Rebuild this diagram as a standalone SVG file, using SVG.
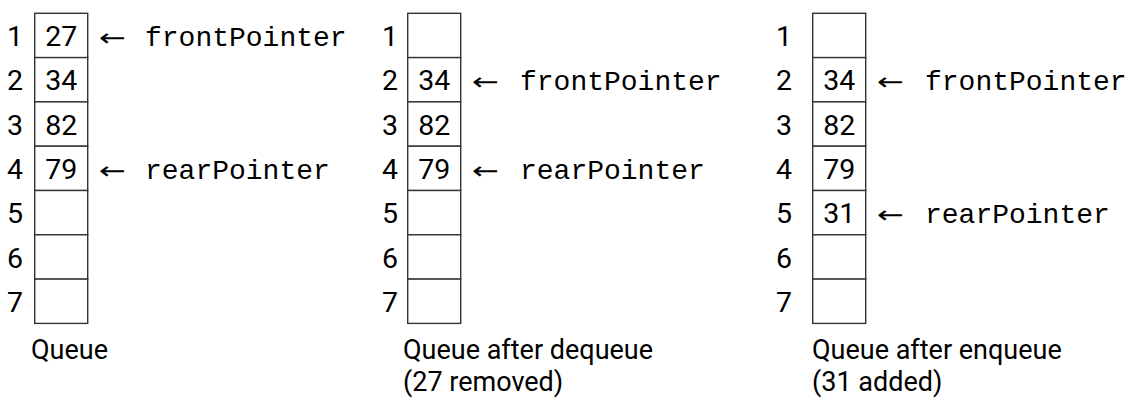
<svg xmlns="http://www.w3.org/2000/svg" width="1144" height="418" viewBox="0 0 1144 418">
<style>
.cell{fill:#fff;stroke:#333;stroke-width:1.4}
.idx{font-family:Roboto,"Open Sans",sans-serif;font-size:28.5px;font-weight:400;fill:#000;text-anchor:middle}
.val{font-family:Roboto,"Open Sans",sans-serif;font-size:28.5px;font-weight:400;fill:#000;text-anchor:middle}
.ptr{font-family:"Courier New","Liberation Mono",monospace;font-size:28px;fill:#000}
.arr{font-family:"DejaVu Sans",sans-serif;font-size:24px;fill:#000}
.cap{font-family:Roboto,"Open Sans",sans-serif;font-size:27px;font-weight:400;fill:#000}
</style>
<rect width="1144" height="418" fill="#fff"/>

<g id="queue-initial">
  <g id="q1-r1"><rect class="cell" x="34.7" y="13.3" width="53" height="44.3"/><text class="idx" x="15" y="46">1</text><text class="val" x="61.2" y="46">27</text></g>
  <g id="q1-r2"><rect class="cell" x="34.7" y="57.6" width="53" height="44.3"/><text class="idx" x="15" y="90.3">2</text><text class="val" x="61.2" y="90.3">34</text></g>
  <g id="q1-r3"><rect class="cell" x="34.7" y="101.9" width="53" height="44.3"/><text class="idx" x="15" y="134.6">3</text><text class="val" x="61.2" y="134.6">82</text></g>
  <g id="q1-r4"><rect class="cell" x="34.7" y="146.2" width="53" height="44.3"/><text class="idx" x="15" y="178.9">4</text><text class="val" x="61.2" y="178.9">79</text></g>
  <g id="q1-r5"><rect class="cell" x="34.7" y="190.5" width="53" height="44.3"/><text class="idx" x="15" y="223.2">5</text></g>
  <g id="q1-r6"><rect class="cell" x="34.7" y="234.8" width="53" height="44.3"/><text class="idx" x="15" y="267.5">6</text></g>
  <g id="q1-r7"><rect class="cell" x="34.7" y="279.1" width="53" height="44.3"/><text class="idx" x="15" y="311.8">7</text></g>
  <text class="cap" x="31" y="359">Queue</text>
</g>

<g id="queue-dequeue">
  <g id="q2-r1"><rect class="cell" x="407.7" y="13.3" width="53" height="44.3"/><text class="idx" x="390" y="46">1</text></g>
  <g id="q2-r2"><rect class="cell" x="407.7" y="57.6" width="53" height="44.3"/><text class="idx" x="390" y="90.3">2</text><text class="val" x="434.2" y="90.3">34</text></g>
  <g id="q2-r3"><rect class="cell" x="407.7" y="101.9" width="53" height="44.3"/><text class="idx" x="390" y="134.6">3</text><text class="val" x="434.2" y="134.6">82</text></g>
  <g id="q2-r4"><rect class="cell" x="407.7" y="146.2" width="53" height="44.3"/><text class="idx" x="390" y="178.9">4</text><text class="val" x="434.2" y="178.9">79</text></g>
  <g id="q2-r5"><rect class="cell" x="407.7" y="190.5" width="53" height="44.3"/><text class="idx" x="390" y="223.2">5</text></g>
  <g id="q2-r6"><rect class="cell" x="407.7" y="234.8" width="53" height="44.3"/><text class="idx" x="390" y="267.5">6</text></g>
  <g id="q2-r7"><rect class="cell" x="407.7" y="279.1" width="53" height="44.3"/><text class="idx" x="390" y="311.8">7</text></g>
  <text class="cap" x="403" y="359">Queue after dequeue</text>
  <text class="cap" x="403" y="391">(27 removed)</text>
</g>

<g id="queue-enqueue">
  <g id="q3-r1"><rect class="cell" x="812.7" y="13.3" width="53" height="44.3"/><text class="idx" x="784" y="46">1</text></g>
  <g id="q3-r2"><rect class="cell" x="812.7" y="57.6" width="53" height="44.3"/><text class="idx" x="784" y="90.3">2</text><text class="val" x="839.2" y="90.3">34</text></g>
  <g id="q3-r3"><rect class="cell" x="812.7" y="101.9" width="53" height="44.3"/><text class="idx" x="784" y="134.6">3</text><text class="val" x="839.2" y="134.6">82</text></g>
  <g id="q3-r4"><rect class="cell" x="812.7" y="146.2" width="53" height="44.3"/><text class="idx" x="784" y="178.9">4</text><text class="val" x="839.2" y="178.9">79</text></g>
  <g id="q3-r5"><rect class="cell" x="812.7" y="190.5" width="53" height="44.3"/><text class="idx" x="784" y="223.2">5</text><text class="val" x="839.2" y="223.2">31</text></g>
  <g id="q3-r6"><rect class="cell" x="812.7" y="234.8" width="53" height="44.3"/><text class="idx" x="784" y="267.5">6</text></g>
  <g id="q3-r7"><rect class="cell" x="812.7" y="279.1" width="53" height="44.3"/><text class="idx" x="784" y="311.8">7</text></g>
  <text class="cap" x="812" y="359">Queue after enqueue</text>
  <text class="cap" x="812" y="391">(31 added)</text>
</g>

<g id="connectors">
  <text class="arr" x="99" y="46" textLength="27" lengthAdjust="spacingAndGlyphs">←</text>
  <text class="ptr" x="145" y="46">frontPointer</text>
  <text class="arr" x="99" y="178.9" textLength="27" lengthAdjust="spacingAndGlyphs">←</text>
  <text class="ptr" x="145" y="178.9">rearPointer</text>

  <text class="arr" x="472" y="90.3" textLength="27" lengthAdjust="spacingAndGlyphs">←</text>
  <text class="ptr" x="520" y="90.3">frontPointer</text>
  <text class="arr" x="472" y="178.9" textLength="27" lengthAdjust="spacingAndGlyphs">←</text>
  <text class="ptr" x="520" y="178.9">rearPointer</text>

  <text class="arr" x="877" y="90.3" textLength="27" lengthAdjust="spacingAndGlyphs">←</text>
  <text class="ptr" x="925" y="90.3">frontPointer</text>
  <text class="arr" x="877" y="223.2" textLength="27" lengthAdjust="spacingAndGlyphs">←</text>
  <text class="ptr" x="925" y="223.2">rearPointer</text>
</g>
</svg>
